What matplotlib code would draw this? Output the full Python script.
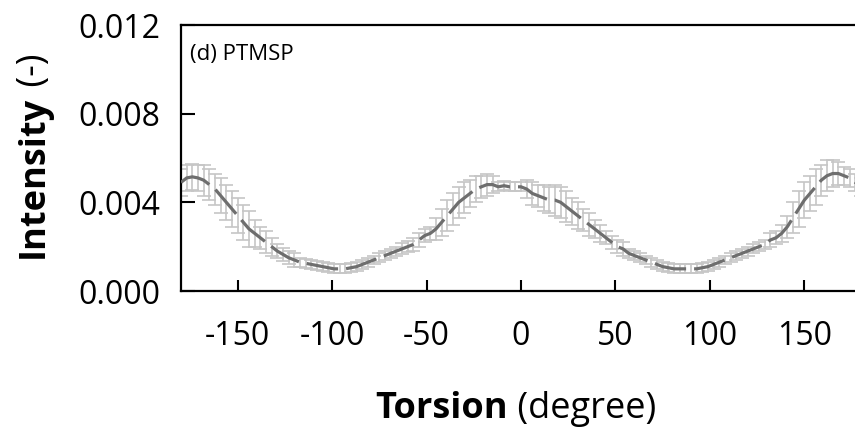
import numpy as np
import matplotlib
matplotlib.use("Agg")
import matplotlib.pyplot as plt

plt.rcParams['font.family'] = ['Open Sans', 'DejaVu Sans']

# ---- data ----
torsion = list(range(-180, 181, 3))
intensity = [
    0.0049, 0.0051, 0.00515, 0.0051, 0.0050, 0.0048, 0.0046, 0.0043, 0.0040, 0.0037,
    0.0034, 0.0031, 0.0028, 0.0026, 0.0024, 0.0022, 0.0020, 0.0018, 0.00165, 0.0015,
    0.0014, 0.0013, 0.00125, 0.0012, 0.00115, 0.0011, 0.00105, 0.0010, 0.0010, 0.0010,
    0.00105, 0.0011, 0.0012, 0.0013, 0.0014, 0.0015, 0.0016, 0.0017, 0.0018, 0.0019,
    0.0020, 0.0021, 0.0023, 0.0025, 0.0026, 0.0028, 0.0031, 0.0034, 0.0037, 0.0040,
    0.0042, 0.0044, 0.0046, 0.0047, 0.0048, 0.0048, 0.0047, 0.00475, 0.0047, 0.0047,
    0.0047, 0.0046, 0.0044, 0.0043, 0.0042, 0.0041, 0.0041, 0.0040, 0.0038, 0.0036,
    0.0034, 0.0032, 0.0030, 0.0028, 0.0026, 0.0024, 0.0022, 0.0020, 0.0019, 0.0017,
    0.0016, 0.0015, 0.0014, 0.0013, 0.0012, 0.0011, 0.00105, 0.0010, 0.0010, 0.0010,
    0.0010, 0.0010, 0.00105, 0.0011, 0.0012, 0.0013, 0.0014, 0.0015, 0.0016, 0.0017,
    0.0018, 0.0019, 0.0020, 0.0021, 0.0023, 0.0024, 0.0026, 0.0029, 0.0033, 0.0037,
    0.0041, 0.0044, 0.0047, 0.0050, 0.0052, 0.0053, 0.0053, 0.0052, 0.0051, 0.0049,
    0.0047,
]
error = [
    0.0006, 0.0006, 0.0006, 0.0006, 0.0007, 0.0007, 0.0007, 0.0008, 0.0008, 0.0008,
    0.0008, 0.0008, 0.0008, 0.0006, 0.0005, 0.0005, 0.0004, 0.0003, 0.0003, 0.0003,
    0.0003, 0.0002, 0.0002, 0.0002, 0.0002, 0.0002, 0.0002, 0.0002, 0.0002, 0.0002,
    0.0002, 0.0002, 0.0002, 0.0002, 0.0002, 0.0002, 0.0002, 0.0002, 0.0002, 0.00025,
    0.00025, 0.0003, 0.0003, 0.0003, 0.0003, 0.0005, 0.0006, 0.0007, 0.0007, 0.0007,
    0.0007, 0.0006, 0.0006, 0.0005, 0.0005, 0.0004, 0.0002, 0.0002, 0.0002, 0.0002,
    0.0002, 0.0004, 0.0005, 0.0005, 0.0006, 0.0006, 0.0007, 0.0007, 0.0007, 0.0006,
    0.0006, 0.0005, 0.0005, 0.0004, 0.0004, 0.0003, 0.0003, 0.0003, 0.0003, 0.0002,
    0.0002, 0.0002, 0.0002, 0.0002, 0.0002, 0.0002, 0.0002, 0.0002, 0.0002, 0.0002,
    0.0002, 0.0002, 0.0002, 0.0002, 0.0002, 0.0002, 0.0002, 0.0002, 0.0002, 0.0002,
    0.0002, 0.0002, 0.0002, 0.0002, 0.0003, 0.0003, 0.0004, 0.0005, 0.0007, 0.0008,
    0.0008, 0.0008, 0.0008, 0.0007, 0.0007, 0.0006, 0.0005, 0.0004, 0.0004, 0.0004,
    0.0004,
]
x_ticks = [-150, -100, -50, 0, 50, 100, 150]
y_ticks = [0.000, 0.004, 0.008, 0.012]
panel_label = "(d) PTMSP"

W, H = 855, 428
fig = plt.figure(figsize=(W / 100, H / 100), dpi=100)
ax = fig.add_axes([181 / W, 1 - 291 / H, 680 / W, 266 / H])

ax.errorbar(torsion, intensity, yerr=error, fmt='none', ecolor='#c6c6c6',
            elinewidth=1.2, capsize=5, capthick=1.2, zorder=2)
ax.plot(torsion, intensity, color='#6e6e6e', lw=2.3, dashes=(10, 2.5),
        solid_capstyle='butt', zorder=3)

ax.set_xlim(-180, 180)
ax.set_ylim(0, 0.012)
ax.set_xticks(x_ticks)
ax.set_yticks(y_ticks)
ax.set_yticklabels([f"{v:.3f}" for v in y_ticks])
ax.set_xticklabels([str(v) for v in x_ticks])
ax.tick_params(axis='both', direction='in', labelsize=23, width=1.5, colors='black')
ax.tick_params(axis='x', length=8, pad=21)
ax.tick_params(axis='y', length=10, pad=15)
for s in ax.spines.values():
    s.set_linewidth(1.6)

ax.text(190 / W, 1 - 60 / H, panel_label, transform=fig.transFigure,
        fontsize=16, ha='left', va='baseline')

# mixed-weight axis labels
fig.canvas.draw()
r = fig.canvas.get_renderer()

fs_lab = 26
t1 = fig.text(375 / W, 1 - 418 / H, "Torsion", fontsize=fs_lab, fontweight='bold',
              ha='left', va='baseline')
bb = t1.get_window_extent(renderer=r)
fig.text((bb.x1) / W, 1 - 418 / H, " (degree)", fontsize=fs_lab,
         ha='left', va='baseline')

t2 = fig.text(43 / W, 1 - 258 / H, "Intensity", fontsize=fs_lab, fontweight='bold',
              rotation=90, rotation_mode='anchor', ha='left', va='baseline')
bb2 = t2.get_window_extent(renderer=r)
fig.text(43 / W, (bb2.y1) / H, " (-)", fontsize=fs_lab, rotation=90,
         rotation_mode='anchor', ha='left', va='baseline')

fig.savefig("out.png", dpi=100)
